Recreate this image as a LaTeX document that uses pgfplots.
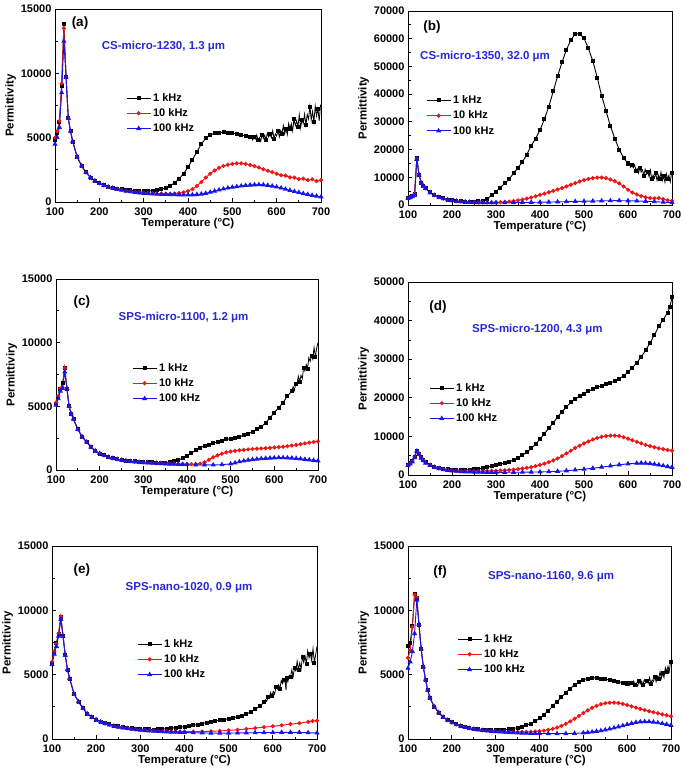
\documentclass[border=0pt]{standalone}
\usepackage{fontspec}
\setmainfont{Liberation Sans}
\usepackage{pgfplots}
\pgfplotsset{compat=1.18}

\definecolor{ttl}{RGB}{40,40,215}
\definecolor{cred}{RGB}{240,20,20}
\definecolor{cblue}{RGB}{20,20,235}

\pgfplotsset{
  panel/.style={
    scale only axis,
    xmin=100, xmax=700, ymin=0,
    xtick={100,200,...,700},
    minor x tick num=1, minor y tick num=1,
    tick align=inside, xtick pos=bottom, ytick pos=left,
    major tick length=4pt, minor tick length=2.5pt,
    every tick/.style={black, line width=0.8pt},
    axis line style={line width=0.9pt},
    tick label style={font=\fontsize{11}{12}\selectfont\bfseries},
    xticklabel style={yshift=-2.5pt},
    label style={font=\fontsize{11.5}{12}\selectfont\bfseries},
    /pgf/number format/assume math mode=true,
    /pgf/number format/1000 sep={},
    scaled y ticks=false,
    xlabel={Temperature (°C)},
    xlabel style={yshift=4.5pt},
    ylabel style={yshift=-2pt},
    legend style={draw=none, fill=none, anchor=north west, inner sep=0pt,
      font=\fontsize{11}{12}\selectfont\bfseries, row sep=1.8pt},
    legend cell align=left,
    legend image code/.code={%
      \draw[mark repeat=2,mark phase=2,##1] plot coordinates {(0pt,0pt) (12pt,0pt) (24pt,0pt)};},
  },
  k1/.style={black, line width=0.9pt, mark=square*, mark size=1.5pt, mark options={solid}},
  k1n/.style={k1, line width=0.8pt, mark repeat=3, forget plot},
  k10/.style={cred, line width=0.9pt, mark=*, mark size=1.6pt, mark options={solid}},
  k100/.style={cblue, line width=0.9pt, mark=triangle*, mark size=2.1pt, mark options={solid}},
}
\newcommand{\plab}[3]{\node[font=\fontsize{13.5}{14}\selectfont\bfseries] at (rel axis cs:#1,#2) {#3};}
\newcommand{\ptitle}[3]{\node[font=\fontsize{11.5}{12}\selectfont\bfseries, text=ttl] at (rel axis cs:#1,#2) {#3};}

\begin{document}
\begin{tikzpicture}
\path[use as bounding box] (0,0) rectangle (685pt,-776pt);

% (a)
\begin{axis}[panel, at={(55pt,-202pt)}, anchor=south west, width=266pt, height=193pt,
  ymax=15000, ytick={0,5000,10000,15000}, ylabel={Permittivity},
  legend style={at={(rel axis cs:0.267,0.575)}}]
\addplot[k1] coordinates {(100,4800)(105,5400)(110,6200)(115,9000)(120,13800)(125,9700)(130,6500)(135,5500)(140,4700)(150,3500)(160,2800)(170,2300)(180,1900)(190,1650)(200,1450)(210,1300)(220,1200)(230,1100)(240,1050)(250,1000)(260,950)(270,900)(280,880)(290,860)(300,850)(310,850)(320,870)(330,920)(340,980)(350,1100)(360,1250)(370,1500)(380,1800)(390,2200)(400,2700)(410,3300)(420,3900)(430,4500)(440,4950)(450,5200)(460,5350)(470,5400)(480,5420)(490,5400)(500,5350)(510,5300)(520,5200)(530,5150)(540,5050)};
\addplot[k1n] coordinates {(540,5050)(543,5160)(546,4820)(549,5070)(552,4900)(555,5215)(558,4790)(561,5010)(564,4720)(567,5220)(570,4940)(573,5190)(576,4840)(579,5360)(582,5060)(585,5270)(588,4990)(591,5540)(594,4940)(597,5300)(600,5130)(603,5560)(606,5060)(609,5550)(612,5320)(615,5940)(618,5280)(621,5710)(624,5240)(627,6100)(630,5660)(633,6100)(636,5530)(639,6430)(642,5940)(645,6310)(648,5840)(651,6780)(654,5770)(657,6400)(660,6100)(663,6840)(666,6000)(669,6810)(672,6450)(675,7430)(678,6390)(681,7040)(684,6220)(687,7460)(690,6690)(693,7260)(696,6310)(699,7570)};
\addplot[k10] coordinates {(100,5000)(105,5500)(110,6300)(115,9200)(120,13500)(125,9700)(130,6500)(135,5500)(140,4700)(150,3500)(160,2800)(170,2300)(180,1900)(190,1650)(200,1450)(210,1300)(220,1180)(230,1080)(240,1000)(250,940)(260,880)(270,830)(280,790)(290,750)(300,720)(310,700)(320,680)(330,660)(340,650)(350,640)(360,640)(370,660)(380,700)(390,750)(400,850)(410,1000)(420,1250)(430,1550)(440,1900)(450,2200)(460,2450)(470,2650)(480,2800)(490,2900)(500,2960)(510,3000)(520,3000)(530,2960)(540,2880)(550,2780)(560,2680)(570,2550)(580,2430)(590,2320)(600,2200)(610,2080)(620,2050)(630,1920)(640,1900)(650,1780)(660,1820)(670,1700)(680,1760)(690,1620)(700,1700)};
\addplot[k100] coordinates {(100,4500)(105,5000)(110,5800)(115,8500)(120,12500)(125,9700)(130,6500)(135,5500)(140,4700)(150,3500)(160,2800)(170,2300)(180,1900)(190,1650)(200,1450)(210,1300)(220,1180)(230,1070)(240,990)(250,920)(260,850)(270,800)(280,750)(290,710)(300,680)(310,650)(320,630)(330,610)(340,600)(350,590)(360,580)(370,570)(380,560)(390,550)(400,550)(410,560)(420,580)(430,620)(440,680)(450,760)(460,850)(470,940)(480,1020)(490,1090)(500,1150)(510,1200)(520,1250)(530,1290)(540,1320)(550,1340)(560,1350)(570,1340)(580,1300)(590,1240)(600,1170)(610,1090)(620,1000)(630,910)(640,820)(650,740)(660,660)(670,590)(680,520)(690,460)(700,400)};
\legend{1 kHz, 10 kHz, 100 kHz}
\plab{0.094}{0.927}{(a)}
\ptitle{0.408}{0.808}{CS-micro-1230, 1.3 μm}
\end{axis}

% (b)
\begin{axis}[panel, at={(408pt,-205pt)}, anchor=south west, width=264pt, height=194pt,
  ymax=70000, ytick={0,10000,...,70000}, ylabel={Permittivity},
  legend style={at={(rel axis cs:0.068,0.575)}}]
\addplot[k1] coordinates {(100,2500)(105,2800)(110,3200)(115,4000)(120,17000)(125,11000)(130,8000)(135,6800)(140,6000)(150,4600)(160,3600)(170,2900)(180,2400)(190,2000)(200,1700)(210,1500)(220,1350)(230,1250)(240,1200)(250,1200)(260,1300)(270,1600)(280,2300)(290,3500)(300,4800)(310,6300)(320,7800)(330,9300)(340,11500)(350,13500)(360,15500)(370,18200)(380,21400)(390,24000)(400,27000)(410,31000)(420,35500)(430,41000)(440,46500)(450,51500)(460,56000)(470,59500)(480,61700)(490,61800)(500,60200)(510,56500)(520,52000)(530,46000)(540,39500)(550,34000)(560,28500)(570,24000)(580,20000)(590,17000)(600,15000)};
\addplot[k1n] coordinates {(600,15000)(603,15210)(606,13590)(609,14390)(612,13400)(615,14550)(618,12430)(621,13160)(624,11500)(627,13480)(630,11860)(633,12700)(636,10680)(639,12880)(642,11100)(645,11870)(648,10150)(651,12550)(654,9340)(657,10810)(660,9670)(663,11430)(666,8820)(669,10790)(672,9510)(675,11870)(678,8830)(681,10340)(684,8190)(687,11350)(690,9360)(693,10770)(696,8400)(699,11430)};
\addplot[k10] coordinates {(100,2600)(105,2900)(110,3300)(115,4000)(120,16800)(125,11000)(130,8000)(135,6800)(140,6000)(150,4500)(160,3500)(170,2800)(180,2300)(190,1900)(200,1600)(210,1400)(220,1250)(230,1150)(240,1050)(250,1000)(260,950)(270,900)(280,900)(290,900)(300,950)(310,1000)(320,1100)(330,1250)(340,1400)(350,1650)(360,1950)(370,2300)(380,2700)(390,3150)(400,3650)(410,4100)(420,4600)(430,5100)(440,5600)(450,6100)(460,6700)(470,7300)(480,7900)(490,8500)(500,9000)(510,9400)(520,9700)(530,9900)(540,9900)(550,9700)(560,9200)(570,8600)(580,7800)(590,6700)(600,5500)(610,4500)(620,3800)(630,3200)(640,2800)(650,2500)(660,2400)(670,2500)(680,2100)(690,1700)(700,1500)};
\addplot[k100] coordinates {(100,2400)(105,2700)(110,3000)(115,3500)(120,16500)(125,10800)(130,8000)(135,6800)(140,6000)(150,4500)(160,3500)(170,2800)(180,2300)(190,1900)(200,1600)(210,1400)(220,1250)(230,1120)(240,1030)(250,960)(260,900)(270,860)(280,840)(290,830)(300,830)(320,850)(340,880)(360,920)(380,960)(400,1000)(420,1060)(440,1130)(460,1200)(480,1280)(500,1360)(520,1430)(540,1500)(560,1550)(580,1560)(600,1530)(620,1450)(640,1340)(660,1200)(680,1030)(700,850)};
\legend{1 kHz, 10 kHz, 100 kHz}
\plab{0.091}{0.918}{(b)}
\ptitle{0.292}{0.763}{CS-micro-1350, 32.0 μm}
\end{axis}

% (c)
\begin{axis}[panel, at={(56pt,-470pt)}, anchor=south west, width=262pt, height=191pt,
  ymax=15000, ytick={0,5000,10000,15000}, ylabel={Permittiviry},
  legend style={at={(rel axis cs:0.290,0.570)}}]
\addplot[k1] coordinates {(100,5200)(105,5700)(110,6400)(115,6800)(120,8000)(125,6400)(130,5000)(135,4400)(140,4000)(150,3200)(160,2600)(170,2200)(180,1800)(190,1500)(200,1300)(210,1150)(220,1020)(230,930)(240,850)(250,800)(260,750)(270,710)(280,680)(290,650)(300,630)(310,610)(320,600)(330,590)(340,580)(350,590)(360,620)(370,680)(380,780)(390,920)(400,1100)(410,1350)(420,1550)(430,1750)(440,1900)(450,2000)(460,2100)(470,2200)(480,2300)(490,2400)(500,2470)(510,2550)(520,2620)(530,2720)(540,2850)(550,3000)(560,3200)(570,3400)(580,3700)(590,4100)(600,4500)(610,4900)(620,5300)(630,5800)(640,6200)};
\addplot[k1n] coordinates {(640,6200)(643,6550)(646,6250)(649,6790)(652,6730)(655,7370)(658,6950)(661,7430)(664,7170)(667,8030)(670,7780)(673,8280)(676,7930)(679,8820)(682,8530)(685,8980)(688,8710)(691,9620)(694,8920)(697,9570)(700,10000)};
\addplot[k10] coordinates {(100,5300)(105,5800)(110,6400)(115,6500)(120,8000)(125,6400)(130,5000)(135,4400)(140,4000)(150,3200)(160,2600)(170,2200)(180,1800)(190,1500)(200,1300)(210,1150)(220,1020)(230,920)(240,840)(250,780)(260,730)(270,690)(280,650)(290,620)(300,600)(310,580)(320,560)(330,540)(340,530)(350,510)(360,500)(370,490)(380,480)(390,470)(400,460)(410,450)(420,460)(430,500)(440,600)(450,800)(460,1000)(470,1150)(480,1280)(490,1380)(500,1450)(510,1500)(520,1550)(530,1580)(540,1620)(550,1650)(560,1670)(570,1690)(580,1710)(590,1740)(600,1770)(610,1800)(620,1830)(630,1870)(640,1920)(650,1970)(660,2030)(670,2090)(680,2150)(690,2200)(700,2250)};
\addplot[k100] coordinates {(100,5100)(105,5600)(110,6200)(115,6400)(120,7700)(125,6400)(130,5000)(135,4400)(140,4000)(150,3200)(160,2600)(170,2200)(180,1800)(190,1500)(200,1300)(210,1150)(220,1010)(230,910)(240,830)(250,770)(260,720)(270,680)(280,640)(290,610)(300,580)(310,560)(320,540)(330,520)(340,500)(350,490)(360,470)(370,460)(380,450)(390,440)(400,430)(420,410)(440,400)(460,400)(480,420)(500,480)(510,560)(520,650)(530,720)(540,780)(550,820)(560,860)(570,890)(580,920)(590,940)(600,960)(610,970)(620,970)(630,960)(640,940)(650,910)(660,880)(670,840)(680,800)(690,760)(700,720)};
\legend{1 kHz, 10 kHz, 100 kHz}
\plab{0.099}{0.880}{(c)}
\ptitle{0.487}{0.796}{SPS-micro-1100, 1.2 μm}
\end{axis}

% (d)
\begin{axis}[panel, at={(408pt,-475pt)}, anchor=south west, width=264pt, height=193pt,
  ymax=50000, ytick={0,10000,...,50000}, ylabel={Permittiviry},
  legend style={at={(rel axis cs:0.080,0.487)}}]
\addplot[k1] coordinates {(100,2500)(105,3000)(110,3600)(115,4800)(120,6300)(125,5500)(130,4600)(135,3900)(140,3300)(150,2700)(160,2200)(170,1900)(180,1650)(190,1450)(200,1350)(210,1300)(220,1280)(230,1300)(240,1350)(250,1450)(260,1580)(270,1750)(280,2000)(290,2300)(300,2550)(310,2800)(320,3100)(330,3450)(340,3850)(350,4400)(360,5100)(370,5900)(380,6900)(390,8000)(400,9300)(410,10700)(420,12100)(430,13500)(440,15000)(450,16400)(460,17700)(470,18800)(480,19700)(490,20400)(500,21100)(510,21700)(520,22200)(530,22700)(540,23100)(550,23500)(560,23900)(570,24300)(580,24900)(590,25700)(600,26700)(610,27800)(620,29100)(630,30600)(640,32300)(650,34200)(660,36300)(670,38500)(680,40300)(690,42000)(695,43500)(700,46000)};
\addplot[k10] coordinates {(100,2600)(105,3000)(110,3600)(115,4700)(120,6200)(125,5400)(130,4500)(135,3800)(140,3200)(150,2600)(160,2100)(170,1750)(180,1500)(190,1300)(200,1180)(210,1100)(220,1050)(230,1020)(240,1000)(250,1000)(260,1000)(270,1020)(280,1040)(290,1070)(300,1100)(310,1150)(320,1220)(330,1300)(340,1400)(350,1530)(360,1680)(370,1850)(380,2050)(390,2300)(400,2600)(410,2950)(420,3350)(430,3800)(440,4300)(450,4900)(460,5600)(470,6300)(480,7000)(490,7600)(500,8200)(510,8700)(520,9200)(530,9600)(540,9900)(550,10100)(560,10200)(570,10200)(580,10100)(590,9800)(600,9400)(610,9000)(620,8600)(630,8200)(640,7800)(650,7500)(660,7200)(670,6900)(680,6700)(690,6500)(700,6300)};
\addplot[k100] coordinates {(100,2500)(105,2900)(110,3400)(115,4500)(120,6200)(125,5400)(130,4400)(135,3700)(140,3100)(150,2500)(160,2000)(170,1650)(180,1400)(190,1200)(200,1080)(210,980)(220,900)(230,840)(240,800)(250,770)(260,740)(270,720)(280,710)(290,700)(300,700)(320,700)(340,710)(360,730)(380,760)(400,800)(420,870)(440,960)(460,1100)(480,1300)(500,1500)(520,1750)(540,2050)(560,2350)(580,2650)(600,2900)(620,3050)(630,3100)(640,3050)(650,2950)(660,2800)(670,2600)(680,2400)(690,2200)(700,2000)};
\legend{1 kHz, 10 kHz, 100 kHz}
\plab{0.114}{0.870}{(d)}
\ptitle{0.490}{0.756}{SPS-micro-1200, 4.3 μm}
\end{axis}

% (e)
\begin{axis}[panel, at={(52pt,-739pt)}, anchor=south west, width=265pt, height=193pt,
  ymax=15000, ytick={0,5000,10000,15000}, ylabel={Permittiviry},
  legend style={at={(rel axis cs:0.321,0.528)}}]
\addplot[k1] coordinates {(100,5900)(105,6800)(110,7500)(115,8200)(120,9500)(125,8000)(130,6500)(135,5400)(140,4700)(150,3500)(160,2900)(170,2400)(180,1950)(190,1700)(200,1500)(210,1350)(220,1240)(230,1140)(240,1050)(250,990)(260,930)(270,890)(280,850)(290,810)(300,780)(310,760)(320,745)(330,740)(340,750)(350,770)(360,800)(370,840)(380,880)(390,920)(400,960)(410,1010)(420,1070)(430,1130)(440,1200)(450,1270)(460,1340)(470,1400)(480,1460)(490,1520)(500,1580)(510,1650)(520,1730)(530,1820)(540,1950)(550,2100)(560,2300)(570,2550)(580,2850)};
\addplot[k1n] coordinates {(580,2850)(583,3060)(586,2920)(589,3250)(592,3220)(595,3620)(598,3370)(601,3680)(604,3490)(607,4060)(610,3870)(613,4200)(616,3920)(619,4550)(622,4300)(625,4610)(628,4370)(630,3800)(631,4750)(634,4450)(637,4940)(640,4800)(643,5370)(646,4860)(649,5490)(652,5300)(655,6050)(658,5400)(661,5920)(664,5440)(667,6400)(670,5950)(673,6450)(676,5860)(679,6850)(682,6300)(685,6650)(688,6100)(691,7030)(694,5950)(697,6540)(700,7200)};
\addplot[k10] coordinates {(100,6000)(105,6800)(110,7400)(115,8200)(120,9500)(125,8000)(130,6500)(135,5400)(140,4700)(150,3500)(160,2900)(170,2400)(180,1950)(190,1700)(200,1500)(210,1340)(220,1220)(230,1110)(240,1020)(250,950)(260,890)(270,840)(280,790)(290,750)(300,720)(310,690)(320,670)(330,650)(340,630)(350,615)(360,600)(370,590)(380,580)(390,575)(400,570)(420,570)(440,580)(460,600)(480,630)(500,670)(520,720)(540,780)(560,850)(580,920)(600,990)(620,1070)(640,1150)(660,1230)(680,1330)(690,1400)(700,1420)};
\addplot[k100] coordinates {(100,5800)(105,6600)(110,7200)(115,8000)(120,9300)(125,8000)(130,6500)(135,5400)(140,4700)(150,3500)(160,2900)(170,2400)(180,1950)(190,1700)(200,1500)(210,1330)(220,1200)(230,1090)(240,1000)(250,930)(260,870)(270,820)(280,770)(290,730)(300,690)(310,660)(320,630)(330,610)(340,590)(350,570)(360,555)(370,540)(380,530)(390,520)(400,510)(420,490)(440,475)(460,465)(480,460)(500,460)(520,470)(540,480)(560,490)(580,500)(600,510)(620,520)(640,520)(660,510)(680,490)(700,470)};
\legend{1 kHz, 10 kHz, 100 kHz}
\plab{0.113}{0.876}{(e)}
\ptitle{0.517}{0.782}{SPS-nano-1020, 0.9 μm}
\end{axis}

% (f)
\begin{axis}[panel, at={(408pt,-739pt)}, anchor=south west, width=263pt, height=193pt,
  ymax=15000, ytick={0,5000,10000,15000}, ylabel={Permittiviry},
  legend style={at={(rel axis cs:0.186,0.554)}}]
\addplot[k1] coordinates {(100,7200)(105,7500)(110,8800)(115,11300)(120,11000)(125,8900)(130,7000)(135,5600)(140,4600)(145,3800)(150,3200)(160,2500)(170,2050)(180,1700)(190,1480)(200,1300)(210,1160)(220,1050)(230,960)(240,880)(250,820)(260,780)(270,740)(280,710)(290,690)(300,680)(310,690)(320,720)(330,760)(340,820)(350,880)(360,960)(370,1060)(380,1200)(390,1380)(400,1600)(410,1880)(420,2200)(430,2550)(440,2900)(450,3250)(460,3600)(470,3920)(480,4200)(490,4430)(500,4600)(510,4700)(520,4750)(530,4750)(540,4700)(550,4650)(560,4600)(570,4520)(580,4450)(590,4380)(600,4320)};
\addplot[k1n] coordinates {(600,4320)(603,4410)(606,4160)(609,4360)(612,4240)(615,4500)(618,4170)(621,4350)(624,4110)(627,4510)(630,4280)(633,4480)(636,4190)(639,4610)(642,4360)(645,4550)(648,4320)(651,4780)(654,4290)(657,4600)(660,4460)(663,4840)(666,4440)(669,4880)(672,4710)(675,5240)(678,4720)(681,5110)(684,4770)(687,5550)(690,5230)(693,5650)(696,5240)(699,6030)};
\addplot[k10] coordinates {(100,6300)(105,6900)(110,8700)(115,11200)(120,11000)(125,8900)(130,7000)(135,5600)(140,4600)(145,3800)(150,3200)(160,2500)(170,2050)(180,1700)(190,1470)(200,1280)(210,1130)(220,1010)(230,920)(240,840)(250,780)(260,730)(270,690)(280,660)(290,630)(300,610)(310,590)(320,570)(330,560)(340,550)(350,545)(360,545)(370,550)(380,560)(390,580)(400,610)(410,650)(420,710)(430,790)(440,890)(450,1020)(460,1180)(470,1370)(480,1580)(490,1800)(500,2020)(510,2230)(520,2420)(530,2580)(540,2700)(550,2780)(560,2820)(570,2830)(580,2800)(590,2730)(600,2640)(610,2540)(620,2440)(630,2340)(640,2250)(650,2160)(660,2080)(670,2000)(680,1920)(690,1840)(700,1760)};
\addplot[k100] coordinates {(100,5500)(105,6000)(110,6800)(115,8200)(120,10800)(125,8900)(130,7000)(135,5600)(140,4600)(145,3800)(150,3200)(160,2500)(170,2050)(180,1700)(190,1460)(200,1270)(210,1120)(220,1000)(230,900)(240,820)(250,760)(260,710)(270,670)(280,630)(290,600)(300,575)(310,550)(320,530)(330,510)(340,495)(350,480)(360,465)(370,455)(380,445)(390,435)(400,430)(420,420)(440,415)(460,420)(480,440)(500,480)(510,510)(520,550)(530,600)(540,650)(550,710)(560,780)(570,860)(580,950)(590,1040)(600,1130)(610,1220)(620,1290)(630,1340)(640,1360)(650,1350)(660,1320)(670,1270)(680,1210)(690,1140)(700,1060)};
\legend{1 kHz, 10 kHz, 100 kHz}
\plab{0.122}{0.865}{(f)}
\ptitle{0.544}{0.839}{SPS-nano-1160, 9.6 μm}
\end{axis}
\end{tikzpicture}
\end{document}
